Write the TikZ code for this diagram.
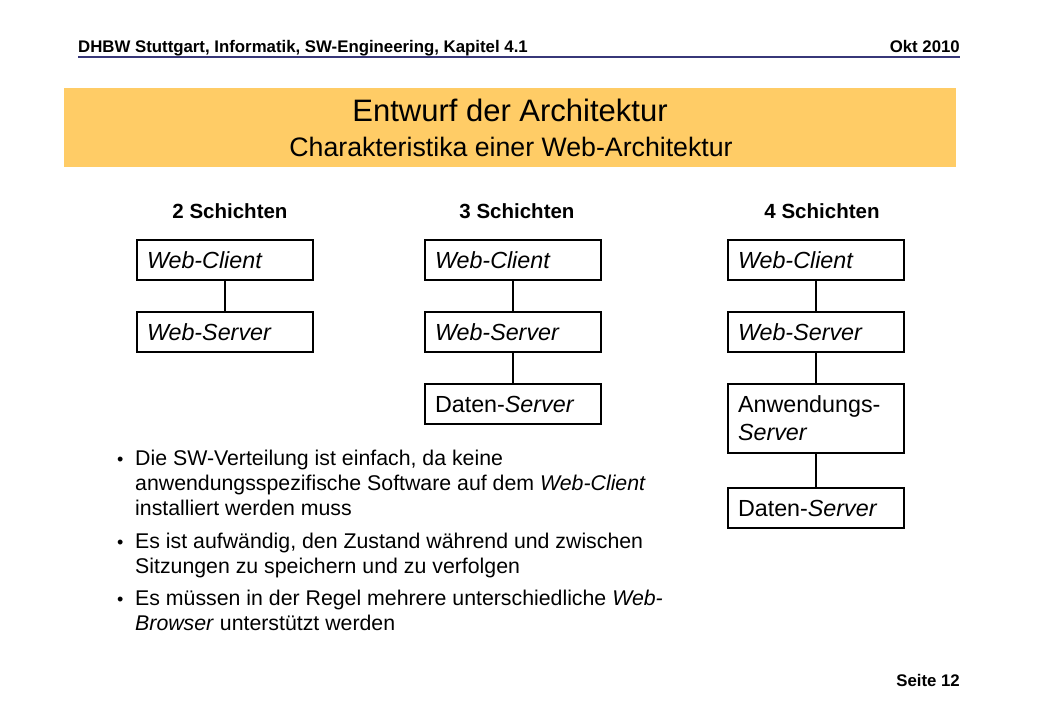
\documentclass[tikz,border=0pt]{standalone}
\usepackage{fontspec}
\setmainfont{Liberation Sans}
\definecolor{band}{RGB}{255,204,102}
\definecolor{rule}{RGB}{55,55,120}
\begin{document}
\begin{tikzpicture}[x=1pt,y=-1pt,
  box/.style={draw,line width=1.2pt,minimum width=176pt,minimum height=40pt,text width=156pt,inner xsep=10pt,inner ysep=0pt,align=left,font=\fontsize{23.3}{28}\selectfont},
  conn/.style={line width=2pt},
  colhead/.style={anchor=base,font=\bfseries\fontsize{20.5}{24}\selectfont},
  hdr/.style={font=\bfseries\fontsize{16.8}{20}\selectfont,inner sep=0pt},
  bul/.style={anchor=north west,align=left,inner sep=0pt,font=\fontsize{21.3}{25}\selectfont},
  dot/.style={anchor=base west,inner sep=0pt,font=\fontsize{18}{25}\selectfont}]
\path[use as bounding box,fill=white] (0,0) rectangle (1040,720);
% header
\node[hdr,anchor=base west] (h1) at (78,52) {DHBW Stuttgart, Informatik, SW-Engineering, Kapitel 4.1};
\node[hdr,anchor=base east] (h2) at (960,52) {Okt 2010};
\draw[rule,line width=2pt] (78,57) -- (960,57);
% title band
\fill[band] (64,88) rectangle (956,167);
\node[anchor=base,inner sep=0pt,font=\fontsize{31}{36}\selectfont] (t1) at (510,121) {Entwurf der Architektur};
\node[anchor=base,inner sep=0pt,font=\fontsize{26.7}{32}\selectfont] (t2) at (511,156) {Charakteristika einer Web-Architektur};
% column headers
\node[colhead] (k2) at (230,218) {2 Schichten};
\node[colhead] (k3) at (517,218) {3 Schichten};
\node[colhead] (k4) at (822,218) {4 Schichten};
% column 1
\node[box] (c1) at (225,260) {\textit{Web-Client}};
\node[box] (s1) at (225,332) {\textit{Web-Server}};
\draw[conn] (c1) -- (s1);
% column 2
\node[box] (c2) at (513,260) {\textit{Web-Client}};
\node[box] (s2) at (513,332) {\textit{Web-Server}};
\node[box] (d2) at (513,404) {Daten-\textit{Server}};
\draw[conn] (c2) -- (s2);
\draw[conn] (s2) -- (d2);
% column 3
\node[box] (c3) at (816,260) {\textit{Web-Client}};
\node[box] (s3) at (816,332) {\textit{Web-Server}};
\node[box,minimum height=69pt] (a3) at (816,418.5) {Anwendungs-\\\textit{Server}};
\node[box] (d3) at (816,508) {Daten-\textit{Server}};
\draw[conn] (c3) -- (s3);
\draw[conn] (s3) -- (a3);
\draw[conn] (a3) -- (d3);
% bullets
\node[dot] (b1) at (117,465) {•};
\node[bul] (p1) at (135,450) {Die SW-Verteilung ist einfach, da keine\\anwendungsspezifische Software auf dem \textit{Web-Client}\\installiert werden muss};
\node[dot] (b2) at (117,548) {•};
\node[bul] (p2) at (135,533) {Es ist aufwändig, den Zustand während und zwischen\\Sitzungen zu speichern und zu verfolgen};
\node[dot] (b3) at (117,605) {•};
\node[bul] (p3) at (135,590) {Es müssen in der Regel mehrere unterschiedliche \textit{Web-}\\\textit{Browser} unterstützt werden};
% footer
\node[hdr,anchor=base east] (pg) at (960,686) {Seite 12};
\end{tikzpicture}
\end{document}
